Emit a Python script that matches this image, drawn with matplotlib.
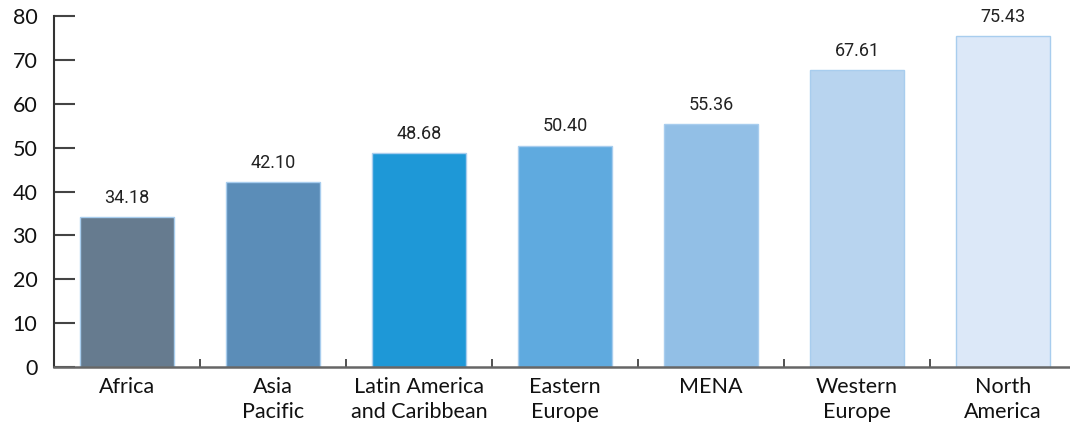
import matplotlib.pyplot as plt
import numpy as np

# regions and values
regions = ["Africa", "Asia\nPacific", "Latin America\nand Caribbean", "Eastern\nEurope",
           "MENA", "Western\nEurope", "North\nAmerica"]
values = [34.18, 42.10, 48.68, 50.40, 55.36, 67.61, 75.43]
colors = ["#667b8f", "#5b8db8", "#1e98d7", "#5faadf", "#92bfe6", "#b8d4ef", "#dce8f8"]

plt.rcParams['font.family'] = ['Lato', 'DejaVu Sans']

fig = plt.figure(figsize=(10.7, 4.29), dpi=100)
ax = fig.add_axes([54 / 1070, 62 / 429, 1016 / 1070, 351 / 429])

x = np.arange(len(regions))
bars = ax.bar(x, values, width=0.64, color=colors, edgecolor="#a8cdee", linewidth=1)

for xi, v in zip(x, values):
    ax.text(xi, v + 2.4, f"{v:.2f}", ha="center", va="bottom", fontsize=13,
            family=['Roboto', 'DejaVu Sans'], color="#222222")

ax.set_ylim(0, 80)
ax.set_xlim(-0.5, -0.5 + 1016 / 146)
ax.set_yticks(range(0, 81, 10))
ax.set_xticks(x)
ax.set_xticklabels(regions, fontsize=15.5, color="#111111", linespacing=1.35)
ax.set_xticks(x[:-1] + 0.5, minor=True)

ax.tick_params(axis="y", direction="in", length=15, width=1.5, color="#444444",
               labelsize=15.5, pad=12, labelcolor="#111111")
ax.tick_params(axis="x", which="major", length=0, pad=7)
ax.tick_params(axis="x", which="minor", direction="in", length=6, width=1.2, color="#333333")

for s in ["top", "right"]:
    ax.spines[s].set_visible(False)
ax.spines["left"].set_color("#333333")
ax.spines["left"].set_linewidth(1.5)
ax.spines["bottom"].set_color("#666666")
ax.spines["bottom"].set_linewidth(1.8)

plt.savefig("out.png", dpi=100)
